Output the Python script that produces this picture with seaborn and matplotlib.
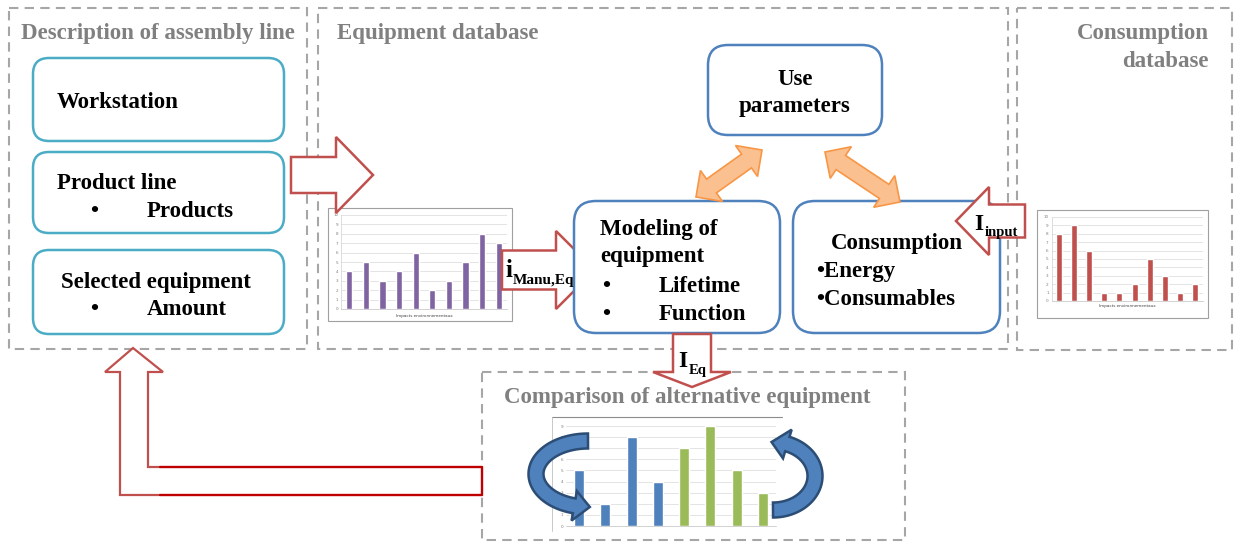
import numpy as np
import pandas as pd
import matplotlib
matplotlib.use("Agg")
import matplotlib.pyplot as plt
import seaborn as sns
from matplotlib.patches import Rectangle, FancyBboxPatch, Polygon

# ---------------- data ----------------
eq_impacts = [str(i) for i in range(1, 11)]
eq_values = [4, 5, 3, 4, 6, 2, 3, 5, 8, 7]
cons_impacts = [str(i) for i in range(1, 11)]
cons_values = [8, 9, 6, 1, 1, 2, 5, 3, 1, 2]
comp_items = ["E1", "E2", "E3", "E4", "E5", "E6", "E7", "E8"]
comp_values = [5, 2, 8, 4, 7, 9, 5, 3]
comp_groups = ["A", "A", "A", "A", "B", "B", "B", "B"]
impact_axis_label = "Impacts environnementaux"

title_assembly = "Description of assembly line"
title_equipment = "Equipment database"
title_consumption = ["Consumption", "database"]
title_comparison = "Comparison of alternative equipment"

# ---------------- style ----------------
sns.set_theme(style="white")
plt.rcParams["font.family"] = ["Liberation Serif", "DejaVu Serif"]

W, H = 1234, 543
fig = plt.figure(figsize=(W / 100, H / 100), dpi=100)

TEAL = "#4BACC6"
BLUE = "#4F81BD"
RED = "#C0504D"
DARKRED = "#C00000"
GRAY = "#A6A6A6"
TGRAY = "#808080"
PURPLE = "#8064A2"
GREEN = "#9BBB59"
ORANGE_F = "#FAC090"
ORANGE_E = "#F79646"

bg = fig.add_axes([0, 0, 1, 1])
bg.set_xlim(0, W)
bg.set_ylim(H, 0)
bg.axis("off")


def inset(x0, y0, x1, y1):
    return fig.add_axes([x0 / W, 1 - y1 / H, (x1 - x0) / W, (y1 - y0) / H])


def style_mini(ax, ymax, n):
    ax.set_xlim(-0.5, n - 0.5)
    ax.set_ylim(0, ymax)
    ax.set_yticks(range(ymax + 1))
    ax.set_xticks([])
    ax.set_xlabel("")
    ax.set_ylabel("")
    ax.yaxis.grid(True, color="#D9D9D9", lw=0.5)
    ax.set_axisbelow(True)
    for s in ["top", "right"]:
        ax.spines[s].set_visible(False)
    ax.spines["left"].set_color("#D0D0D0")
    ax.spines["left"].set_linewidth(0.5)
    ax.spines["bottom"].set_color("#BFBFBF")
    ax.spines["bottom"].set_linewidth(0.5)
    ax.tick_params(axis="y", labelsize=3, colors="#7F7F7F", length=0, pad=2)
    ax.set_facecolor("white")
    for lab in ax.get_yticklabels():
        lab.set_family("DejaVu Sans")


# chart frames (background layer)
bg.add_patch(Rectangle((328, 208), 184, 113, fill=True, fc="white", ec="#A0A0A0", lw=0.8))
bg.add_patch(Rectangle((1037, 210), 171, 108, fill=True, fc="white", ec="#A0A0A0", lw=0.8))
bg.plot([552, 782], [417, 417], color="#8C8C8C", lw=0.8)
bg.plot([552, 552], [417, 531], color="#BFBFBF", lw=0.6)

# equipment impacts chart
ax1 = inset(341, 215, 507, 309)
df1 = pd.DataFrame({"impact": eq_impacts, "value": eq_values})
sns.barplot(data=df1, x="impact", y="value", color=PURPLE, saturation=1, width=0.37, ax=ax1)
style_mini(ax1, 10, len(eq_impacts))
bg.text(424, 316, impact_axis_label, fontsize=3, color="#404040", ha="center", va="center",
        family="DejaVu Sans")

# consumption impacts chart
ax2 = inset(1051.5, 217, 1202.5, 301)
df2 = pd.DataFrame({"impact": cons_impacts, "value": cons_values})
sns.barplot(data=df2, x="impact", y="value", color=RED, saturation=1, width=0.4, ax=ax2)
style_mini(ax2, 10, len(cons_impacts))
bg.text(1127, 306, impact_axis_label, fontsize=3, color="#404040", ha="center", va="center",
        family="DejaVu Sans")

# comparison chart
ax3 = inset(566, 426, 776, 526)
df3 = pd.DataFrame({"item": comp_items, "value": comp_values, "group": comp_groups})
sns.barplot(data=df3, x="item", y="value", hue="group", palette=[BLUE, GREEN], dodge=False,
            saturation=1, width=0.38, legend=False, ax=ax3)
style_mini(ax3, 9, len(comp_items))
ax3.spines["left"].set_visible(False)

# ---------------- top layer ----------------
top = fig.add_axes([0, 0, 1, 1])
top.set_xlim(0, W)
top.set_ylim(H, 0)
top.axis("off")


def dashed_box(x0, y0, x1, y1):
    top.add_patch(Rectangle((x0, y0), x1 - x0, y1 - y0, fill=False, ec=GRAY, lw=1.5,
                            ls=(0, (4.5, 3))))


def round_box(x0, y0, x1, y1, color, r=16, lw=1.8):
    top.add_patch(FancyBboxPatch((x0, y0), x1 - x0, y1 - y0,
                                 boxstyle=f"round,pad=0,rounding_size={r}",
                                 fc="white", ec=color, lw=lw))


def block_arrow(tail, tip, sw, hw, hl, double=False):
    p0 = np.array(tail, float)
    p1 = np.array(tip, float)
    u = (p1 - p0) / np.linalg.norm(p1 - p0)
    n = np.array([-u[1], u[0]])
    b1 = p1 - u * hl
    pts = [b1 + n * sw, b1 + n * hw, p1, b1 - n * hw, b1 - n * sw]
    if double:
        b0 = p0 + u * hl
        pts += [b0 - n * sw, b0 - n * hw, p0, b0 + n * hw, b0 + n * sw]
    else:
        pts += [p0 - n * sw, p0 + n * sw]
    return np.array(pts)


def curl_arrow(cx, cy, rx, ry, t0, t1, tw, hw, hl):
    """Arrow following an elliptical arc (angles in degrees), head at t1."""
    t = np.radians(np.linspace(t0, t1, 200))
    pts = np.column_stack([cx + rx * np.cos(t), cy + ry * np.sin(t)])
    seg = np.linalg.norm(np.diff(pts, axis=0), axis=1)
    dist_from_end = np.concatenate([np.cumsum(seg[::-1])[::-1], [0.0]])
    k = np.argmax(dist_from_end <= hl)
    body = pts[: k + 1]
    tang = np.gradient(body, axis=0)
    tang /= np.linalg.norm(tang, axis=1, keepdims=True)
    nrm = np.column_stack([-tang[:, 1], tang[:, 0]])
    left = body + nrm * tw / 2
    right = body - nrm * tw / 2
    base, nb = body[-1], nrm[-1]
    tip = pts[-1]
    outline = np.vstack([left, [base + nb * hw], [tip], [base - nb * hw], right[::-1]])
    return outline


def txt(x, y, s, size=16.5, color="black", ha="left", weight="bold"):
    top.text(x, y, s, fontsize=size, color=color, ha=ha, va="baseline", weight=weight)


# dashed group boxes
dashed_box(9, 8, 307, 349)
dashed_box(318, 8, 1008, 349)
dashed_box(1017, 8, 1232, 350)
dashed_box(482, 372, 905, 540)

# hollow arrows (under boxes)
top.add_patch(Polygon(block_arrow((291, 175), (373, 175), 18, 38, 37), closed=True,
                      fc="white", ec=RED, lw=1.8))
top.add_patch(Polygon(block_arrow((502, 270), (595, 270), 19.5, 39, 39), closed=True,
                      fc="white", ec=RED, lw=1.8))

# rounded boxes
round_box(33, 58, 284, 141, TEAL, r=16)
round_box(33, 152, 284, 233, TEAL, r=16)
round_box(33, 250, 284, 334, TEAL, r=16)
round_box(708, 45, 882, 135, BLUE, r=20)
round_box(574, 201, 780, 333, BLUE, r=22)
round_box(793, 201, 1000, 333, BLUE, r=22)

# arrows over boxes
top.add_patch(Polygon(block_arrow((1025, 221), (956, 221), 16.5, 34, 33), closed=True,
                      fc="white", ec=RED, lw=1.8))
top.add_patch(Polygon(block_arrow((692, 334), (692, 387), 19, 39, 15), closed=True,
                      fc="white", ec=RED, lw=1.8))

# orange double arrows
top.add_patch(Polygon(block_arrow((696, 197), (762, 150), 8.5, 19, 19, double=True), closed=True,
                      fc=ORANGE_F, ec=ORANGE_E, lw=1.2))
top.add_patch(Polygon(block_arrow((825, 152), (900, 202), 8.5, 19, 19, double=True), closed=True,
                      fc=ORANGE_F, ec=ORANGE_E, lw=1.2))

# L-shaped feedback arrow
L_pts = [(482, 467), (148, 467), (148, 372), (163, 372), (133, 348), (105, 372),
         (120, 372), (120, 495), (482, 495)]
top.add_patch(Polygon(L_pts, closed=True, fc="white", ec=RED, lw=1.6))
top.plot([160, 482, 482, 160], [467, 467, 495, 495], color=DARKRED, lw=1.6)

# curved blue arrows around comparison chart
top.add_patch(Polygon(curl_arrow(588, 474, 52, 33, -90, -272, 15, 15, 16), closed=True,
                      fc=BLUE, ec="#2C4D75", lw=1.8))
top.add_patch(Polygon(curl_arrow(773, 476, 42, 34, 90, -92, 15, 15, 16), closed=True,
                      fc=BLUE, ec="#2C4D75", lw=1.8))

# ---------------- texts ----------------
txt(21, 39, title_assembly, color=TGRAY)
txt(337, 39, title_equipment, color=TGRAY)
txt(1209, 39, title_consumption[0], color=TGRAY, ha="right")
txt(1209, 67, title_consumption[1], color=TGRAY, ha="right")
txt(687, 403, title_comparison, color=TGRAY, ha="center")

txt(57, 108, "Workstation")
txt(57, 189, "Product line")
txt(90, 217, "\u2022")
txt(147, 217, "Products")
txt(61, 288, "Selected equipment")
txt(90, 315, "\u2022")
txt(147, 315, "Amount")

txt(795, 85, "Use", ha="center")
txt(795, 112, "parameters", ha="center")

txt(600, 235, "Modeling of")
txt(600, 262, "equipment")
txt(602, 292, "\u2022")
txt(659, 292, "Lifetime")
txt(602, 320, "\u2022")
txt(659, 320, "Function")

txt(831, 249, "Consumption")
txt(816, 277, "\u2022Energy")
txt(816, 305, "\u2022Consumables")

# arrow labels with subscripts
txt(505, 277, "i", size=18)
txt(513, 284, "Manu,Eq", size=11)
txt(974, 230, "I", size=17)
txt(985, 236, "input", size=10.5)
txt(678, 367, "I", size=17)
txt(689, 374, "Eq", size=10.5)

fig.savefig("out.png", dpi=100)
